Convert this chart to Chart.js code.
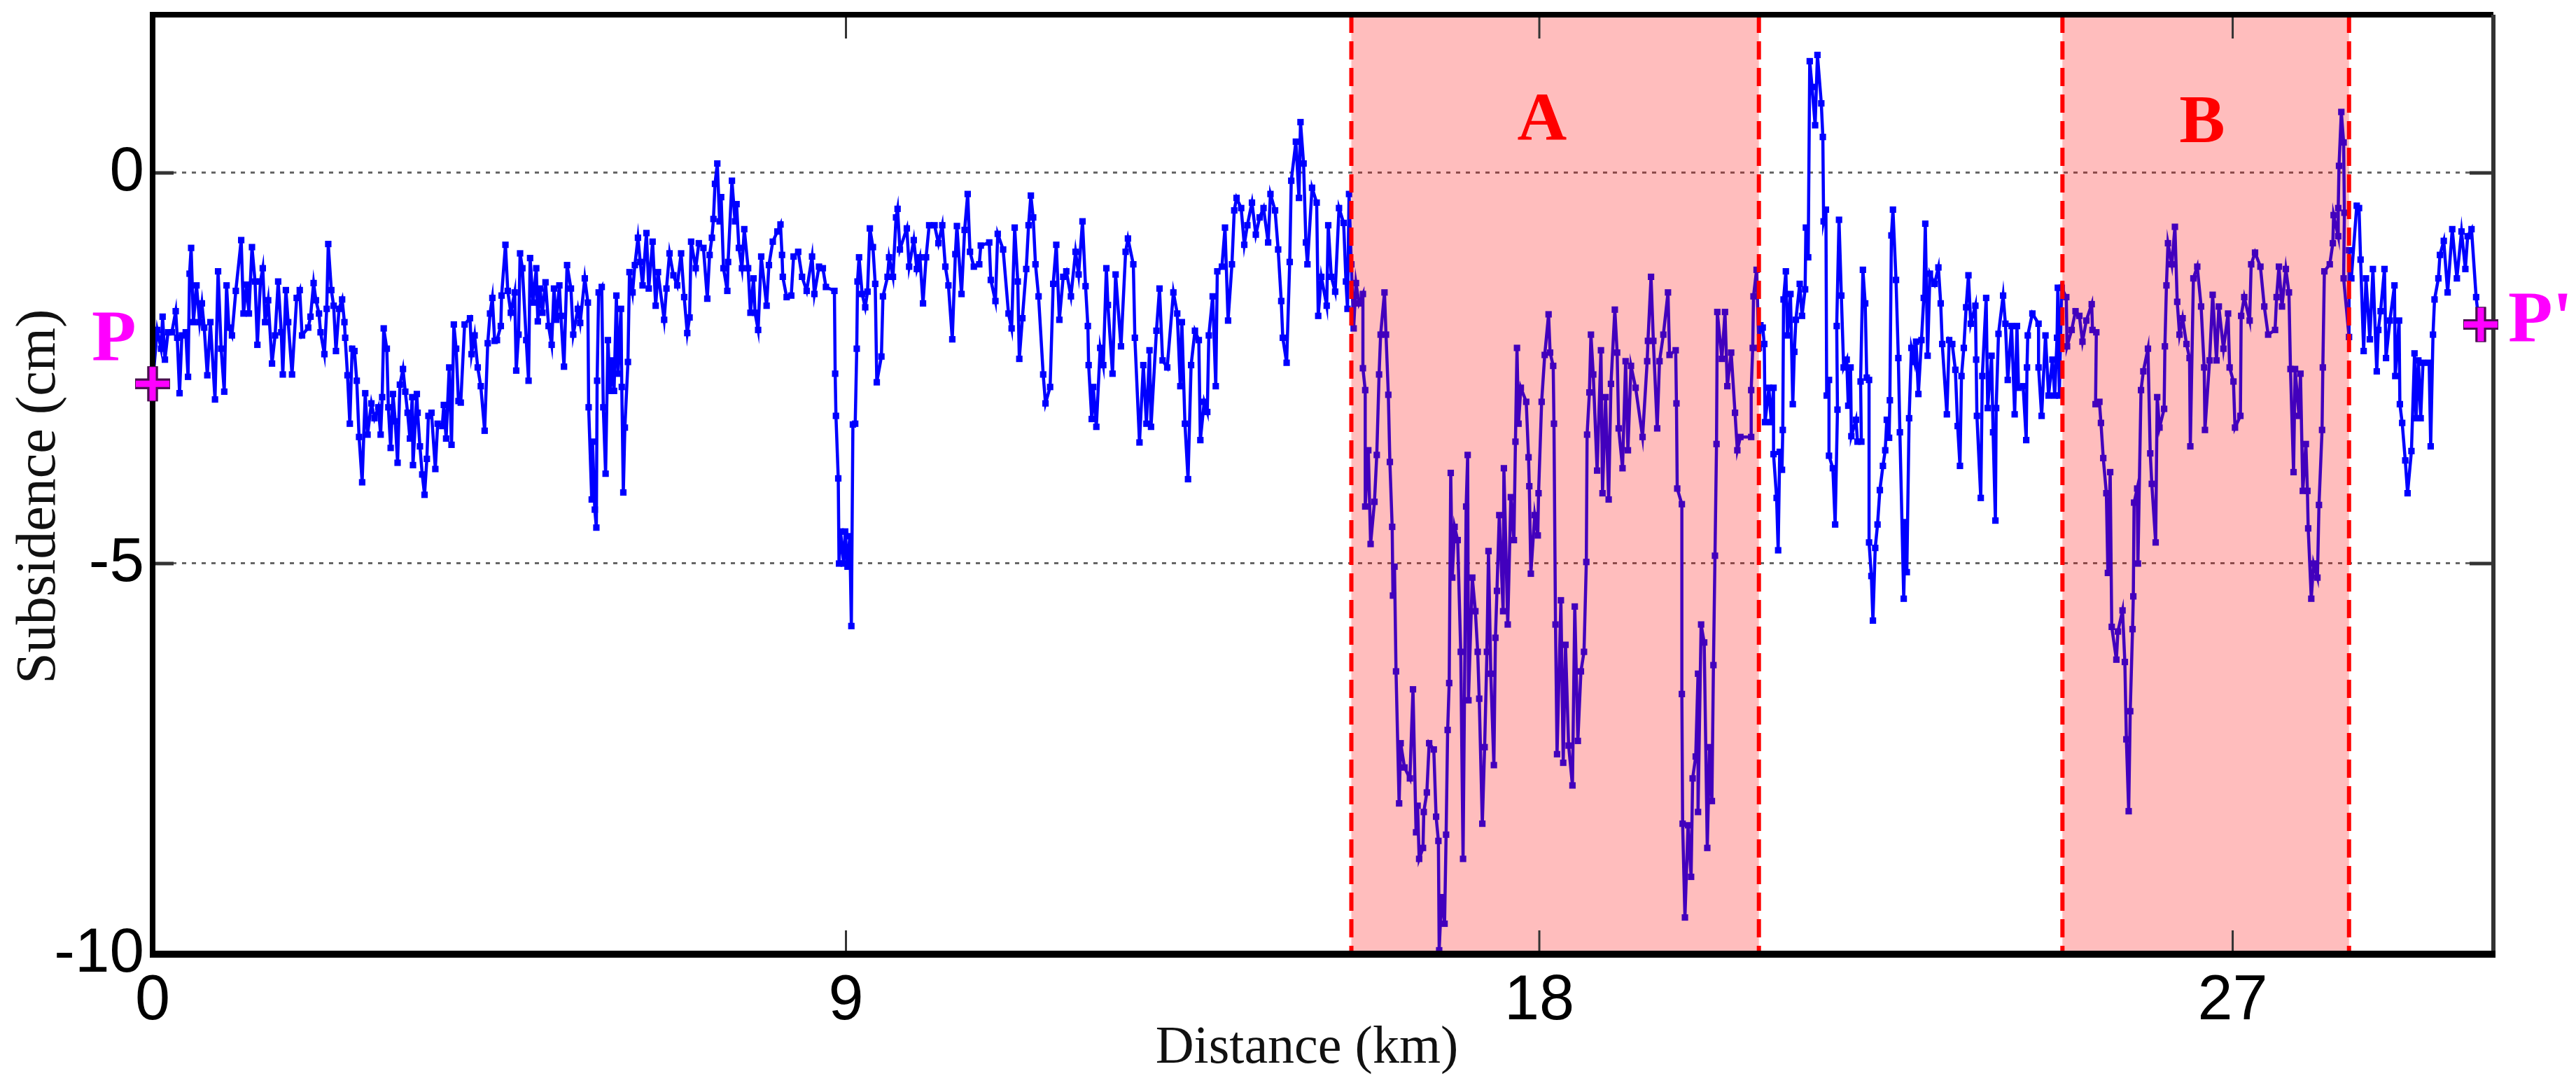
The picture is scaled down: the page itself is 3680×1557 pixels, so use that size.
<!DOCTYPE html>
<html>
<head>
<meta charset="utf-8">
<title>Subsidence profile P-P'</title>
<script src="https://cdn.jsdelivr.net/npm/chart.js@4"></script>
<style>
  html, body { margin: 0; padding: 0; background: #fff; }
  canvas { display: block; }
</style>
</head>
<body>
<canvas id="perfil" width="3680" height="1557"></canvas>
<script>
// values: [distance km, subsidence cm]
const profileWest = [[0,-2.7],[.06,-2.01],[.11,-2.25],[.13,-1.84],[.16,-2.39],[.2,-2.04],[.25,-2.04],[.3,-1.77],[.32,-2.11],[.35,-2.82],[.38,-2.08],[.43,-2.04],[.46,-2.61],[.48,-1.29],[.5,-.96],[.53,-1.91],[.57,-1.44],[.61,-1.91],[.64,-1.67],[.67,-1.98],[.71,-2.59],[.75,-1.91],[.81,-2.9],[.85,-1.26],[.89,-2.25],[.93,-2.8],[.96,-1.44],[.99,-1.98],[1.03,-2.08],[1.08,-1.51],[1.15,-.86],[1.18,-1.8],[1.22,-1.43],[1.25,-1.8],[1.29,-.95],[1.33,-1.39],[1.36,-2.2],[1.4,-1.39],[1.43,-1.22],[1.46,-1.91],[1.5,-1.63],[1.55,-2.44],[1.59,-2.08],[1.63,-1.39],[1.67,-2.04],[1.69,-2.58],[1.73,-1.5],[1.76,-1.91],[1.81,-2.58],[1.87,-1.6],[1.91,-1.5],[1.94,-2.08],[2.02,-1.98],[2.05,-1.84],[2.09,-1.41],[2.12,-1.63],[2.16,-1.8],[2.18,-2.04],[2.23,-2.32],[2.26,-1.74],[2.28,-.91],[2.32,-1.5],[2.35,-1.7],[2.38,-2.28],[2.42,-1.74],[2.46,-1.62],[2.49,-1.91],[2.5,-2.11],[2.53,-2.59],[2.56,-3.21],[2.59,-2.25],[2.62,-2.28],[2.65,-2.66],[2.68,-3.38],[2.72,-3.96],[2.76,-2.82],[2.79,-3.35],[2.84,-2.95],[2.88,-3.14],[2.93,-3],[2.96,-3.35],[2.98,-2.87],[3,-1.99],[3.04,-2.25],[3.06,-3],[3.09,-3.52],[3.12,-2.83],[3.15,-3.18],[3.18,-3.71],[3.21,-2.71],[3.25,-2.51],[3.28,-2.8],[3.31,-3.07],[3.34,-3.4],[3.37,-2.87],[3.38,-3.74],[3.43,-2.83],[3.44,-3.07],[3.47,-3.5],[3.5,-3.86],[3.53,-4.12],[3.56,-3.66],[3.58,-3.11],[3.62,-3.07],[3.67,-3.79],[3.7,-3.21],[3.76,-3.24],[3.78,-2.97],[3.81,-3.4],[3.85,-2.49],[3.88,-3.48],[3.91,-1.94],[3.94,-2.25],[3.97,-2.92],[4,-2.94],[4.05,-1.94],[4.12,-1.86],[4.14,-2.32],[4.18,-2.08],[4.22,-2.49],[4.26,-2.73],[4.31,-3.3],[4.35,-2.18],[4.38,-1.8],[4.41,-1.6],[4.44,-2.15]];
const profileCentre = [[4.47,-2.14],[4.52,-1.96],[4.53,-1.57],[4.58,-.92],[4.61,-1.51],[4.65,-1.79],[4.7,-1.53],[4.72,-2.53],[4.75,-2.07],[4.77,-1.03],[4.8,-1.22],[4.85,-2.14],[4.88,-2.66],[4.9,-1.09],[4.94,-1.66],[4.98,-1.22],[5,-1.9],[5.03,-1.48],[5.06,-1.79],[5.1,-1.4],[5.14,-1.96],[5.18,-2.2],[5.21,-1.48],[5.24,-1.88],[5.28,-1.44],[5.3,-1.83],[5.34,-2.48],[5.38,-1.18],[5.43,-1.48],[5.46,-2.07],[5.52,-1.74],[5.55,-1.92],[5.61,-1.35],[5.65,-1.66],[5.66,-3],[5.7,-4.18],[5.71,-3.44],[5.74,-4.31],[5.76,-4.54],[5.77,-2.66],[5.79,-1.53],[5.83,-1.46],[5.85,-3],[5.88,-3.85],[5.91,-2.14],[5.94,-2.79],[5.96,-2.4],[5.99,-2.79],[6.02,-1.57],[6.04,-2.57],[6.08,-1.74],[6.09,-2.74],[6.11,-4.09],[6.13,-3.26],[6.17,-2.42],[6.19,-1.27],[6.23,-1.53],[6.26,-1.18],[6.3,-.83],[6.33,-1.14],[6.36,-1.44],[6.41,-.77],[6.44,-1.48],[6.49,-.88],[6.53,-1.7],[6.56,-1.27],[6.64,-1.88],[6.67,-1.48],[6.71,-1.03],[6.76,-1.31],[6.81,-1.44],[6.86,-1.03],[6.9,-1.59],[6.94,-2.05],[6.97,-1.85],[6.99,-.88],[7.05,-1.22],[7.09,-.9],[7.15,-.96],[7.2,-1.61],[7.23,-1.05],[7.26,-.83],[7.28,-.59],[7.3,-.14],[7.33,.12],[7.36,-.62],[7.38,-.31],[7.41,-1.22],[7.46,-1.51],[7.47,-1.14],[7.52,-.1],[7.56,-.62],[7.58,-.4],[7.61,-.96],[7.65,-1.22],[7.68,-.72],[7.73,-1.22],[7.76,-1.79],[7.8,-1.35],[7.82,-1.79],[7.86,-2.01],[7.9,-1.07],[7.97,-1.7],[8,-1.18],[8.05,-.88],[8.11,-.75],[8.15,-.66],[8.17,-1.05],[8.18,-1.33],[8.23,-1.59],[8.29,-1.57],[8.32,-1.07],[8.38,-1.01],[8.43,-1.33],[8.49,-1.51],[8.56,-1.07],[8.59,-1.55],[8.65,-1.2],[8.7,-1.22],[8.74,-1.46],[8.85,-1.51],[8.86,-2.57],[8.87,-3.11],[8.9,-3.91],[8.91,-5],[8.93,-4.59],[8.97,-5],[8.99,-4.59],[9.02,-5.04],[9.05,-4.65],[9.07,-5.8]];
const profileEast = [[9.09,-3.22],[9.12,-3.21],[9.14,-2.25],[9.15,-1.39],[9.17,-1.08],[9.21,-1.55],[9.25,-1.72],[9.28,-1.52],[9.31,-.71],[9.35,-.95],[9.38,-1.42],[9.4,-2.68],[9.46,-2.35],[9.48,-1.58],[9.54,-1.33],[9.56,-1.08],[9.61,-1.33],[9.65,-.57],[9.67,-.46],[9.7,-.98],[9.79,-.71],[9.82,-1.2],[9.88,-.86],[9.92,-1.23],[9.96,-1.08],[10,-1.67],[10.04,-1.08],[10.08,-.67],[10.15,-.67],[10.2,-.9],[10.25,-.67],[10.29,-1.2],[10.33,-1.44],[10.38,-2.13],[10.42,-1.04],[10.44,-.68],[10.5,-1.55],[10.54,-.73],[10.58,-.27],[10.61,-1.01],[10.66,-1.2],[10.73,-1.17],[10.75,-.93],[10.86,-.89],[10.88,-1.37],[10.94,-1.64],[10.97,-.78],[11.04,-.98],[11.11,-1.8],[11.15,-1.99],[11.19,-.7],[11.23,-1.39],[11.25,-2.38],[11.29,-1.86],[11.34,-1.23],[11.37,-.67],[11.4,-.29],[11.43,-.57],[11.46,-1.17],[11.5,-1.58],[11.56,-2.58],[11.59,-2.95],[11.65,-2.74],[11.69,-1.42],[11.73,-.92],[11.77,-1.88],[11.82,-1.33],[11.86,-1.26],[11.92,-1.58],[11.98,-1.01],[12.02,-1.3],[12.07,-.62],[12.11,-1.45],[12.14,-1.96],[12.15,-2.46],[12.19,-3.15],[12.21,-2.74],[12.25,-3.25],[12.3,-2.24],[12.34,-2.46],[12.38,-1.22],[12.4,-1.69],[12.46,-2.57],[12.5,-1.3],[12.57,-2.22],[12.63,-1.01],[12.66,-.84],[12.73,-1.17],[12.75,-2.11],[12.81,-3.45],[12.86,-2.46],[12.9,-3.21],[12.94,-2.27],[12.96,-3.25],[13.03,-2.02],[13.07,-1.48],[13.11,-2.4],[13.17,-2.49],[13.25,-1.53],[13.3,-1.8],[13.34,-2.73],[13.36,-1.91],[13.4,-3.21],[13.44,-3.92],[13.48,-2.46],[13.53,-2.02],[13.58,-2.14],[13.6,-3.42],[13.65,-2.93],[13.69,-3.06],[13.71,-2.08],[13.76,-1.58],[13.8,-2.73],[13.82,-1.26],[13.88,-1.2],[13.92,-.7],[13.96,-1.89],[14.01,-1.17],[14.04,-.48],[14.07,-.32],[14.13,-.45],[14.17,-.92],[14.21,-.67],[14.27,-.38],[14.32,-.79],[14.37,-.57],[14.42,-.45],[14.48,-.89],[14.51,-.27],[14.57,-.48],[14.61,-.98],[14.65,-1.64],[14.67,-2.11],[14.72,-2.43],[14.76,-1.14],[14.78,-.1],[14.84,.4],[14.88,-.32],[14.9,.65],[14.94,.12],[14.97,-.89],[14.99,-1.17],[15.05,-.19],[15.11,-.38],[15.13,-1.83],[15.17,-1.33],[15.24,-1.7],[15.26,-.67],[15.3,-1.33],[15.35,-1.52],[15.4,-.45],[15.46,-.64],[15.49,-1.39],[15.51,-1.74],[15.53,-.27],[15.56,-1.17],[15.59,-1.99]];
const profileZoneA = [[15.62,-1.41],[15.66,-1.67],[15.71,-1.55],[15.71,-2.5],[15.74,-2.78],[15.74,-4.27],[15.78,-3.55],[15.81,-4.75],[15.86,-4.21],[15.89,-3.61],[15.92,-2.58],[15.94,-2.07],[15.99,-1.53],[16.01,-2.07],[16.04,-2.84],[16.06,-3.7],[16.09,-4.53],[16.1,-5.41],[16.12,-5.04],[16.14,-6.38],[16.18,-8.07],[16.2,-7.3],[16.25,-7.61],[16.32,-7.75],[16.36,-6.61],[16.4,-8.44],[16.42,-8.1],[16.44,-8.78],[16.49,-8.64],[16.5,-8.18],[16.54,-7.93],[16.57,-7.3],[16.63,-7.38],[16.66,-8.24],[16.69,-8.55],[16.7,-9.95],[16.73,-9.27],[16.77,-9.61],[16.79,-8.47],[16.81,-7.13],[16.83,-6.53],[16.85,-3.84],[16.87,-5.18],[16.9,-4.53],[16.94,-4.7],[16.98,-6.13],[17.01,-8.78],[17.05,-4.27],[17.07,-3.61],[17.08,-6.75],[17.13,-5.18],[17.17,-5.61],[17.2,-6.13],[17.22,-6.73],[17.26,-8.33],[17.29,-7.35],[17.32,-6.13],[17.34,-4.84],[17.37,-6.41],[17.41,-7.58],[17.43,-5.95],[17.45,-5.35],[17.48,-4.38],[17.53,-5.61],[17.54,-3.78],[17.59,-5.78],[17.63,-4.15],[17.67,-4.7],[17.69,-3.44],[17.71,-2.24],[17.73,-3.21],[17.76,-2.75],[17.83,-2.93],[17.86,-3.64],[17.87,-4.01],[17.89,-5.13],[17.94,-4.38],[17.98,-4.64],[17.99,-4.1],[18.03,-2.93],[18.07,-2.33],[18.12,-1.81],[18.14,-2.3],[18.18,-2.47],[18.19,-3.21],[18.21,-5.78],[18.23,-7.44],[18.28,-5.47],[18.31,-7.55],[18.34,-6.04],[18.38,-7.33],[18.43,-7.84],[18.46,-5.55],[18.5,-7.27],[18.54,-6.38],[18.58,-6.13],[18.61,-4.98],[18.62,-3.35],[18.65,-2.81],[18.67,-2.07],[18.7,-2.58],[18.75,-3.81],[18.8,-2.27],[18.82,-4.1],[18.86,-2.87],[18.9,-4.18],[18.93,-2.7],[18.98,-1.75],[19.01,-2.3],[19.03,-3.27],[19.08,-3.78],[19.12,-2.41],[19.15,-3.55],[19.19,-2.47],[19.25,-2.75],[19.34,-3.38],[19.4,-2.41],[19.41,-2.15],[19.45,-1.33],[19.48,-2.15],[19.53,-3.27],[19.56,-2.41],[19.61,-2.07],[19.67,-1.53],[19.69,-2.33],[19.77,-2.27],[19.78,-2.95],[19.79,-4.04],[19.85,-4.24],[19.85,-6.67],[19.86,-8.33],[19.89,-9.53],[19.93,-8.35],[19.97,-9.01],[19.99,-7.75],[20.03,-7.47],[20.06,-6.41],[20.06,-8.18],[20.1,-5.78],[20.14,-6.01],[20.18,-8.64],[20.21,-7.35],[20.24,-8.04],[20.26,-6.3],[20.28,-4.9],[20.3,-3.47],[20.31,-1.78],[20.37,-2.38],[20.41,-1.78],[20.44,-2.73],[20.49,-2.3],[20.54,-3.07],[20.57,-3.55],[20.61,-3.38],[20.75,-3.38],[20.75,-2.78],[20.77,-2.24],[20.78,-1.58],[20.82,-1.24],[20.85,-2.24],[20.87,-1.95]];
const profileBetween = [[20.9,-1.98],[20.92,-2.19],[20.93,-3.19],[20.98,-2.75],[21.01,-3.19],[21.04,-2.75],[21.04,-3.6],[21.08,-4.16],[21.1,-4.83],[21.12,-3.57],[21.15,-3.8],[21.16,-3.29],[21.17,-1.62],[21.2,-1.26],[21.22,-2.08],[21.26,-1.55],[21.29,-2.96],[21.31,-2.29],[21.33,-1.88],[21.38,-1.42],[21.41,-1.83],[21.45,-1.49],[21.46,-.7],[21.49,-1.08],[21.51,1.43],[21.54,1.1],[21.58,.61],[21.61,1.51],[21.66,.89],[21.68,.46],[21.69,-.62],[21.72,-.47],[21.73,-2.85],[21.76,-2.65],[21.76,-3.62],[21.81,-3.78],[21.84,-4.5],[21.87,-3.03],[21.86,-1.96],[21.89,-.6],[21.92,-1.57],[21.95,-2.49],[21.99,-2.39],[22.01,-2.98],[22.04,-2.49],[22.05,-3.37],[22.11,-3.16],[22.13,-3.44],[22.18,-3.44],[22.17,-2.67],[22.2,-1.24],[22.23,-1.67],[22.25,-2.62],[22.28,-2.65],[22.28,-4.73],[22.31,-5.16],[22.33,-5.73],[22.36,-4.8],[22.39,-4.5],[22.42,-4.06],[22.46,-3.75],[22.49,-3.55],[22.51,-3.16],[22.54,-3.39],[22.55,-2.91],[22.57,-.8],[22.59,-.47],[22.63,-1.37],[22.66,-2.37],[22.68,-3.32],[22.73,-5.45],[22.75,-4.47],[22.77,-5.11],[22.8,-3.14],[22.83,-2.24],[22.87,-2.42],[22.89,-2.16],[22.92,-2.83],[22.96,-2.14],[22.99,-1.6],[23.01,-.65],[23.04,-2.34],[23.07,-1.29],[23.13,-1.42],[23.18,-1.21],[23.21,-1.67],[23.23,-2.19],[23.29,-3.09],[23.32,-2.14],[23.36,-2.19],[23.4,-2.52],[23.43,-3.24],[23.46,-3.75],[23.48,-2.6],[23.51,-2.24],[23.54,-1.72],[23.57,-1.31],[23.6,-1.93],[23.66,-1.7],[23.67,-2.39],[23.68,-3.11],[23.73,-4.16],[23.75,-2.6],[23.8,-1.6],[23.82,-3.01],[23.87,-2.34],[23.89,-3.32],[23.92,-4.45],[23.93,-3.01],[23.96,-2.06],[24.02,-1.57],[24.05,-1.93],[24.08,-2.65],[24.13,-1.96],[24.17,-3.09],[24.2,-1.96],[24.22,-2.75],[24.28,-2.73],[24.32,-3.42],[24.33,-2.49],[24.34,-2.08],[24.4,-1.8],[24.48,-1.93],[24.48,-2.49],[24.52,-3.11],[24.57,-2.08],[24.61,-2.85],[24.66,-2.39],[24.69,-2.85],[24.72,-2.11],[24.73,-1.47],[24.75,-2.85]];
const profileZoneB = [[24.78,-1.47],[24.84,-1.59],[24.85,-2.22],[24.91,-2.01],[24.96,-1.77],[25.01,-1.83],[25.05,-2.16],[25.1,-1.89],[25.17,-1.68],[25.18,-2.01],[25.23,-2.04],[25.22,-2.96],[25.27,-2.93],[25.29,-3.2],[25.32,-3.65],[25.36,-4.1],[25.38,-5.12],[25.41,-3.83],[25.43,-5.81],[25.49,-6.23],[25.51,-5.87],[25.57,-5.6],[25.6,-6.26],[25.62,-7.25],[25.65,-8.17],[25.67,-6.89],[25.7,-5.84],[25.71,-5.42],[25.72,-4.22],[25.76,-4.04],[25.77,-5],[25.81,-2.78],[25.84,-2.54],[25.9,-2.25],[25.93,-3.59],[25.95,-3.98],[26,-4.73],[26.02,-2.87],[26.05,-3.26],[26.11,-3.02],[26.12,-2.22],[26.14,-1.44],[26.16,-.9],[26.21,-1.17],[26.25,-.69],[26.28,-1.65],[26.31,-2.07],[26.35,-1.86],[26.4,-2.19],[26.44,-2.37],[26.45,-3.5],[26.49,-1.35],[26.54,-1.2],[26.59,-1.71],[26.63,-2.49],[26.64,-3.29],[26.7,-2.4],[26.74,-1.56],[26.79,-2.4],[26.82,-1.71],[26.88,-2.25],[26.94,-1.8],[26.96,-2.49],[27.01,-2.67],[27.03,-3.26],[27.1,-3.11],[27.11,-1.83],[27.15,-1.59],[27.22,-1.89],[27.24,-1.17],[27.29,-1.02],[27.36,-1.2],[27.41,-1.71],[27.46,-2.07],[27.55,-2.01],[27.57,-1.59],[27.6,-1.2],[27.64,-1.71],[27.69,-1.23],[27.73,-1.53],[27.75,-2.51],[27.79,-3.83],[27.81,-2.51],[27.86,-3.11],[27.88,-2.57],[27.91,-4.07],[27.95,-3.47],[27.97,-4.07],[27.98,-4.55],[28.02,-5.45],[28.05,-5],[28.1,-5.18],[28.12,-4.25],[28.16,-3.29],[28.17,-2.49],[28.19,-1.26],[28.26,-1.17],[28.3,-.9],[28.31,-.54],[28.37,-.81],[28.37,-.45],[28.38,.09],[28.41,.78],[28.44,.39],[28.45,-.51],[28.44,-1.35]];
const profileEnd = [[28.51,-2.1],[28.51,-.99],[28.54,-1.35],[28.61,-.42],[28.64,-.45],[28.66,-1.11],[28.7,-2.28],[28.73,-1.35],[28.78,-2.13],[28.82,-1.23],[28.87,-2.54],[28.89,-2.01],[28.92,-1.77],[28.97,-1.23],[28.99,-2.37],[29.04,-1.89],[29.1,-1.44],[29.11,-2.6],[29.16,-1.89],[29.17,-2.96],[29.2,-3.2],[29.24,-3.68],[29.27,-4.1],[29.32,-3.56],[29.36,-2.31],[29.38,-3.14],[29.41,-2.4],[29.44,-3.14],[29.47,-2.43],[29.55,-2.43],[29.57,-3.5],[29.6,-2.07],[29.62,-1.62],[29.67,-1.35],[29.69,-1.05],[29.74,-.87],[29.79,-1.53],[29.85,-.72],[29.91,-1.35],[29.97,-.75],[30.02,-1.23],[30.05,-.81],[30.1,-.72],[30.16,-1.59],[30.2,-1.95]];

const endpointP = [[0, -2.7]];
const endpointPPrime = [[30.22, -1.94]];

const zoneEdges = [[15.56, 20.85], [24.79, 28.51]];
const zoneNames = ['A', 'B'];

const xTicks = [0, 9, 18, 27];
const yTicks = [-10, -5, 0];

const perfil = [...profileWest, ...profileCentre, ...profileEast, ...profileZoneA, ...profileBetween, ...profileZoneB, ...profileEnd];
const toPoints = list => list.map(p => ({ x: p[0], y: p[1] }));

const SERIF = '"Liberation Serif", serif';
const SANS = '"Liberation Sans", sans-serif';

const decoraciones = {
    id: 'decoraciones',
    afterDatasetsDraw(chart) {
        const { ctx, chartArea: a, scales: { x, y } } = chart;
        ctx.save();

        // shaded zones sit on top of the line, that is why it turns purple there
        zoneEdges.forEach((zone, i) => {
            const x0 = x.getPixelForValue(zone[0]);
            const x1 = x.getPixelForValue(zone[1]);
            ctx.fillStyle = 'rgba(255,0,0,0.26)';
            ctx.fillRect(x0, a.top, x1 - x0, a.bottom - a.top);
            ctx.strokeStyle = '#ff0000';
            ctx.lineWidth = 6;
            ctx.setLineDash([26, 12]);
            [x0, x1].forEach(px => {
                ctx.beginPath();
                ctx.moveTo(px, a.top);
                ctx.lineTo(px, a.bottom);
                ctx.stroke();
            });
            ctx.setLineDash([]);
            ctx.fillStyle = '#ff0000';
            ctx.font = 'bold 98px ' + SERIF;
            ctx.textAlign = 'center';
            ctx.textBaseline = 'alphabetic';
            ctx.fillText(zoneNames[i], i === 0 ? 2203 : 3146, i === 0 ? 199 : 203);
        });

        // ticks point inwards on all four sides
        ctx.strokeStyle = '#333';
        ctx.lineWidth = 3;
        xTicks.slice(1).forEach(v => {
            const px = x.getPixelForValue(v);
            ctx.beginPath();
            ctx.moveTo(px, a.top);
            ctx.lineTo(px, a.top + 34);
            ctx.moveTo(px, a.bottom);
            ctx.lineTo(px, a.bottom - 34);
            ctx.stroke();
        });
        ctx.lineWidth = 5;
        yTicks.slice(1).forEach(v => {
            const py = y.getPixelForValue(v);
            ctx.beginPath();
            ctx.moveTo(a.left, py);
            ctx.lineTo(a.left + 30, py);
            ctx.moveTo(a.right, py);
            ctx.lineTo(a.right - 34, py);
            ctx.stroke();
        });

        // frame
        ctx.strokeStyle = '#000';
        ctx.lineWidth = 8;
        ctx.beginPath();
        ctx.moveTo(a.left, a.bottom);
        ctx.lineTo(a.left, a.top);
        ctx.lineTo(a.right, a.top);
        ctx.stroke();
        ctx.strokeStyle = '#333';
        ctx.lineWidth = 6;
        ctx.beginPath();
        ctx.moveTo(a.right, a.top);
        ctx.lineTo(a.right, a.bottom);
        ctx.stroke();
        ctx.strokeStyle = '#000';
        ctx.lineWidth = 10;
        ctx.beginPath();
        ctx.moveTo(a.left - 4, a.bottom);
        ctx.lineTo(a.right + 3, a.bottom);
        ctx.stroke();

        // endpoints go over the frame
        chart.getDatasetMeta(1).controller.draw();
        chart.getDatasetMeta(2).controller.draw();
        chart.getDatasetMeta(3).controller.draw();
        chart.getDatasetMeta(4).controller.draw();

        ctx.fillStyle = '#ff00ff';
        ctx.font = 'bold 104px ' + SERIF;
        ctx.textAlign = 'left';
        ctx.fillText('P', 131, 515);
        ctx.fillText("P'", 3583, 488);

        // axis titles
        ctx.fillStyle = '#111';
        ctx.textAlign = 'center';
        ctx.font = '76px ' + SERIF;
        ctx.fillText('Distance (km)', 1867, 1518);
        ctx.translate(78, 709);
        ctx.rotate(-Math.PI / 2);
        ctx.font = '80px ' + SERIF;
        ctx.fillText('Subsidence (cm)', 0, 0);

        ctx.restore();
    }
};

const marker = (data, radius, width, color) => ({
    type: 'scatter',
    data: toPoints(data),
    pointStyle: 'cross',
    pointRadius: radius,
    pointBorderWidth: width,
    pointBorderColor: color,
    pointBackgroundColor: color,
    showLine: false,
    clip: false
});

const ctx = document.getElementById('perfil').getContext('2d');
const myChart = new Chart(ctx, {
    type: 'scatter',
    data: {
        datasets: [
            {
                data: toPoints(perfil),
                showLine: true,
                borderColor: '#0000ff',
                borderWidth: 4.5,
                tension: 0,
                pointStyle: 'rect',
                pointRadius: 6.5,
                pointBorderWidth: 0,
                pointBackgroundColor: '#0000ff'
            },
            marker(endpointP, 25, 15, '#4a1050'),
            marker(endpointP, 24, 9, '#ff00ff'),
            marker(endpointPPrime, 25, 15, '#4a1050'),
            marker(endpointPPrime, 24, 9, '#ff00ff')
        ]
    },
    options: {
        responsive: false,
        animation: false,
        devicePixelRatio: 1,
        layout: { autoPadding: false, padding: { top: 21, right: 118, left: 0, bottom: 0 } },
        scales: {
            x: {
                type: 'linear',
                min: 0,
                max: 30.384,
                afterBuildTicks: scale => { scale.ticks = xTicks.map(v => ({ value: v })); },
                afterFit: scale => {
                    scale.height = 194;
                    scale.paddingLeft = 0;
                    scale.paddingRight = 0;
                },
                grid: { display: false },
                border: { display: false },
                ticks: {
                    color: '#000',
                    font: { family: SANS, size: 90 },
                    padding: 6,
                    maxRotation: 0,
                    autoSkip: false
                }
            },
            y: {
                type: 'linear',
                min: -10,
                max: 2.025,
                afterBuildTicks: scale => { scale.ticks = yTicks.map(v => ({ value: v })); },
                afterFit: scale => {
                    scale.width = 218;
                    scale.paddingTop = 0;
                    scale.paddingBottom = 0;
                },
                grid: { color: '#666', lineWidth: 3, drawTicks: false },
                border: { display: false, dash: [6, 8] },
                ticks: {
                    color: '#000',
                    font: { family: SANS, size: 89 },
                    padding: 12
                }
            }
        },
        plugins: {
            legend: { display: false },
            tooltip: { enabled: false }
        }
    },
    plugins: [decoraciones]
});
</script>
</body>
</html>
